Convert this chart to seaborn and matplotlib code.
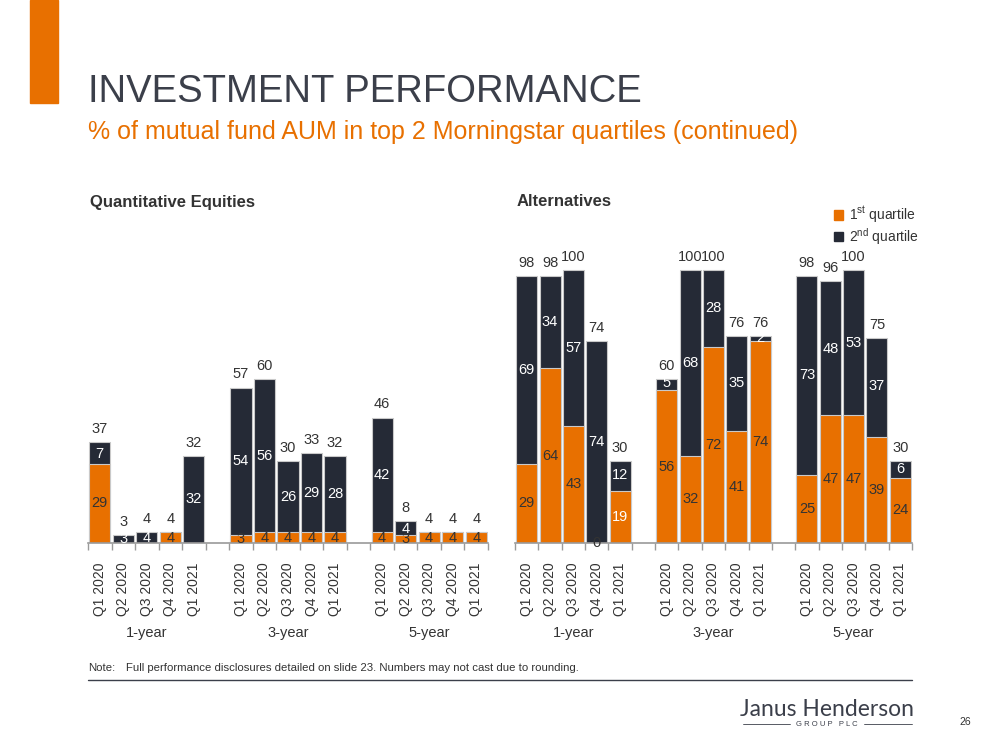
import pandas as pd
import matplotlib.pyplot as plt
import seaborn as sns
from matplotlib.patches import Rectangle, Patch
from matplotlib.lines import Line2D

sns.set_theme(style='white')
plt.rcParams['font.family'] = ['Liberation Sans', 'DejaVu Sans']
plt.rcParams['mathtext.fontset'] = 'custom'
plt.rcParams['mathtext.rm'] = 'Liberation Sans'

ORANGE = '#E87000'
NAVY = '#252A36'
TEXT = '#333333'
EDGE = '#c9c9c9'

periods = ['1-year', '3-year', '5-year']
quarters = ['Q1 2020', 'Q2 2020', 'Q3 2020', 'Q4 2020', 'Q1 2021']

# Quantitative Equities (1-year, 3-year, 5-year; five quarters each)
qe_first = [29, 0, 0, 4, 0, 3, 4, 4, 4, 4, 4, 3, 4, 4, 4]
qe_second = [7, 3, 4, 0, 32, 54, 56, 26, 29, 28, 42, 4, 0, 0, 0]
qe_total = [37, 3, 4, 4, 32, 57, 60, 30, 33, 32, 46, 8, 4, 4, 4]

# Alternatives
alt_first = [29, 64, 43, 0, 19, 56, 32, 72, 41, 74, 25, 47, 47, 39, 24]
alt_second = [69, 34, 57, 74, 12, 5, 68, 28, 35, 2, 73, 48, 53, 37, 6]
alt_total = [98, 98, 100, 74, 30, 60, 100, 100, 76, 76, 98, 96, 100, 75, 30]

# labels that break the default rule
zero_shown = [('Alternatives', '1-year', 'Q4 2020')]
white_first = [('Alternatives', '1-year', 'Q1 2021')]


def make_frame(first, second, total):
    rows = []
    i = 0
    for p in periods:
        for q in quarters:
            rows.append({'period': p, 'quarter': q, 'key': p + '|' + q,
                         'first': first[i], 'second': second[i], 'total': total[i]})
            i += 1
    return pd.DataFrame(rows)


order = []
for n, p in enumerate(periods):
    order += [p + '|' + q for q in quarters]
    if n < len(periods) - 1:
        order.append('gap%d' % n)

fig = plt.figure(figsize=(10, 7.5), dpi=100)

# slide furniture
fig.patches.append(Rectangle((0.030, 1 - 103 / 750), 0.028, 103 / 750,
                             transform=fig.transFigure, color=ORANGE, zorder=0))
fig.text(0.088, 1 - 92 / 750, 'INVESTMENT PERFORMANCE', fontsize=27.5,
         color='#3b3f4a', va='center')
fig.text(0.088, 1 - 132 / 750,
         '% of mutual fund AUM in top 2 Morningstar quartiles (continued)',
         fontsize=18, color=ORANGE, va='center')


def draw_panel(rect, name, df):
    ax = fig.add_axes(rect)
    sns.barplot(data=df, x='key', y='total', order=order, color=NAVY,
                saturation=1, width=0.9, edgecolor=EDGE, linewidth=0.8, ax=ax)
    sns.barplot(data=df, x='key', y='first', order=order, color=ORANGE,
                saturation=1, width=0.9, edgecolor=EDGE, linewidth=0.8, ax=ax)
    ax.set_ylim(0, 110)
    ax.set_xlim(-0.5, len(order) - 0.5)
    ax.set_xlabel('')
    ax.set_ylabel('')
    ax.set_yticks([])
    for s in ['left', 'right', 'top']:
        ax.spines[s].set_visible(False)
    ax.spines['bottom'].set_color('#9a9a9a')
    ax.spines['bottom'].set_linewidth(1.2)

    centers = [order.index(k) for k in df['key']]
    ax.set_xticks(centers)
    ax.set_xticklabels(df['quarter'], rotation=90, fontsize=10, color=TEXT)
    ax.set_xticks([i - 0.5 for i in range(len(order) + 1)], minor=True)
    ax.tick_params(axis='x', which='major', length=0, pad=14, bottom=True)
    ax.tick_params(axis='x', which='minor', length=5, width=1,
                   color='#9a9a9a', bottom=True)

    for _, r in df.iterrows():
        x = order.index(r['key'])
        tag = (name, r['period'], r['quarter'])
        if r['first'] > 0 or tag in zero_shown:
            c = 'white' if tag in white_first else TEXT
            ax.text(x, r['first'] / 2, str(r['first']), ha='center',
                    va='center', fontsize=10.5, color=c)
        if r['second'] > 0:
            ax.text(x, r['first'] + r['second'] / 2, str(r['second']),
                    ha='center', va='center', fontsize=10.5, color='white')
        ax.text(x, r['total'] + 4.8, str(r['total']), ha='center',
                va='center', fontsize=10.5, color=TEXT)

    for n, p in enumerate(periods):
        mid = order.index(p + '|Q3 2020')
        ax.text(mid, -0.30, p, transform=ax.get_xaxis_transform(),
                ha='center', va='center', fontsize=10.5, color=TEXT)
    return ax


qe = make_frame(qe_first, qe_second, qe_total)
alt = make_frame(alt_first, alt_second, alt_total)

ax1 = draw_panel([0.088, 0.276, 0.400, 0.40], 'Quantitative Equities', qe)
ax2 = draw_panel([0.515, 0.276, 0.397, 0.40], 'Alternatives', alt)

fig.text(0.090, 1 - 202 / 750, 'Quantitative Equities', fontsize=12,
         fontweight='bold', color=TEXT, va='center')
fig.text(0.517, 1 - 202 / 750, 'Alternatives', fontsize=12,
         fontweight='bold', color=TEXT, va='center')

handles = [Patch(color=ORANGE), Patch(color=NAVY)]
fig.legend(handles, [r'1$^{\mathrm{st}}$ quartile', r'2$^{\mathrm{nd}}$ quartile'],
           loc='upper left', bbox_to_anchor=(0.828, 1 - 199 / 750), frameon=False,
           fontsize=10, handlelength=0.7, handleheight=0.7, handletextpad=0.4,
           labelspacing=0.05, labelcolor=TEXT, borderaxespad=0)

# footnote and logo
fig.text(0.088, 1 - 668 / 750, 'Note:', fontsize=8.2, color=TEXT, va='center')
fig.text(0.126, 1 - 668 / 750,
         'Full performance disclosures detailed on slide 23. Numbers may not cast due to rounding.',
         fontsize=8.2, color=TEXT, va='center')
fig.add_artist(Line2D([0.088, 0.912], [1 - 680 / 750] * 2, color='#3b3f4a',
                      linewidth=1, transform=fig.transFigure))
fig.text(0.827, 1 - 710 / 750, 'Janus Henderson', fontsize=16.5, color='#3b3f4a',
         ha='center', va='center', family=['Lato', 'DejaVu Sans'])
fig.text(0.827, 1 - 724 / 750, 'G R O U P   P L C', fontsize=5.5,
         color='#3b3f4a', ha='center', va='center')
fig.add_artist(Line2D([0.743, 0.790], [1 - 724 / 750] * 2, color='#3b3f4a',
                      linewidth=0.6, transform=fig.transFigure))
fig.add_artist(Line2D([0.864, 0.912], [1 - 724 / 750] * 2, color='#3b3f4a',
                      linewidth=0.6, transform=fig.transFigure))
fig.text(0.965, 1 - 722 / 750, '26', fontsize=7.5, color=TEXT,
         ha='center', va='center')

fig.savefig('out.png', dpi=100, facecolor='white')
